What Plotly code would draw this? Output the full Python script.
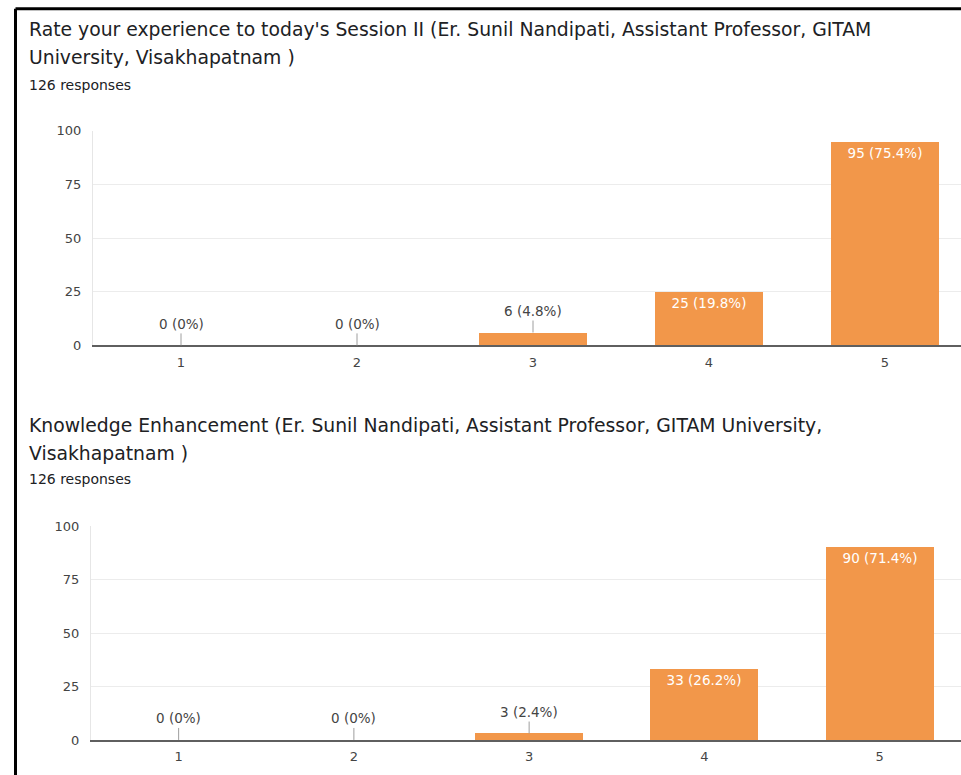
import plotly.graph_objects as go

categories = ["1", "2", "3", "4", "5"]
x_pos = [1, 2, 3, 4, 5]
session_counts = [0, 0, 6, 25, 95]
session_pcts = ["0%", "0%", "4.8%", "19.8%", "75.4%"]
knowledge_counts = [0, 0, 3, 33, 90]
knowledge_pcts = ["0%", "0%", "2.4%", "26.2%", "71.4%"]
y_ticks = [0, 25, 50, 75, 100]

title1_lines = ["Rate your experience to today's Session II (Er. Sunil Nandipati, Assistant Professor, GITAM",
                "University, Visakhapatnam )"]
title2_lines = ["Knowledge Enhancement (Er. Sunil Nandipati, Assistant Professor, GITAM University,",
                "Visakhapatnam )"]
responses_text = "126 responses"

W, H = 961, 783
Y_OFF, Y_SCALE = 6.2, 0.982  # observed vertical placement of the page in the photograph
ORANGE = "#F2974A"
FONT = "DejaVu Sans"

def py(px):
    return 1 - ((px - Y_OFF) / Y_SCALE) / H

fig = go.Figure()

charts = [
    dict(counts=session_counts, pcts=session_pcts, xa="x", ya="y",
         left=93, top=130, bottom=345, step=176, titles=title1_lines, ty=[29, 57], ry=84),
    dict(counts=knowledge_counts, pcts=knowledge_pcts, xa="x2", ya="y2",
         left=91, top=526, bottom=740, step=175.25, titles=title2_lines, ty=[425, 453], ry=479),
]

annotations = []
layout_axes = {}
INSIDE_MIN = 15
for i, c in enumerate(charts):
    labels = [f"{v} ({p})" for v, p in zip(c["counts"], c["pcts"])]
    inside_text = [lab if v >= INSIDE_MIN else "" for lab, v in zip(labels, c["counts"])]
    fig.add_trace(go.Bar(
        x=x_pos, y=c["counts"], xaxis=c["xa"], yaxis=c["ya"],
        marker=dict(color=ORANGE, line=dict(width=0)), width=0.615,
        text=inside_text, textposition="inside", insidetextanchor="end",
        textfont=dict(color="white", size=13.5, family=FONT),
        constraintext="none", textangle=0, showlegend=False, hoverinfo="skip",
    ))
    for xv, v, lab in zip(x_pos, c["counts"], labels):
        if v < INSIDE_MIN:
            annotations.append(dict(
                x=xv, y=v, xref=c["xa"], yref=c["ya"], text=lab,
                showarrow=True, arrowhead=0, arrowwidth=1, arrowcolor="#9e9e9e",
                ax=0, ay=-21.5, standoff=0,
                font=dict(size=13.5, color="#444", family=FONT),
            ))
    for line, yy in zip(c["titles"], c["ty"]):
        annotations.append(dict(
            x=27 / W, y=py(yy), xref="paper", yref="paper", xanchor="left", yanchor="middle",
            text=line, showarrow=False, font=dict(size=18.8, color="#202124", family=FONT),
        ))
    annotations.append(dict(
        x=27 / W, y=py(c["ry"]), xref="paper", yref="paper", xanchor="left", yanchor="middle",
        text=responses_text, showarrow=False, font=dict(size=14, color="#202124", family=FONT),
    ))
    suffix = "" if i == 0 else "2"
    layout_axes["xaxis" + suffix] = dict(
        domain=[c["left"] / W, 1], range=[0.5, 0.5 + (W - c["left"]) / c["step"]],
        tickvals=x_pos, ticktext=categories, showgrid=False, zeroline=False,
        showline=True, linecolor="#5f5f5f", linewidth=1.5, ticks="",
        tickfont=dict(size=13, color="#444", family=FONT), ticklabelstandoff=4,
        anchor="y" + suffix, fixedrange=True,
    )
    layout_axes["yaxis" + suffix] = dict(
        domain=[py(c["bottom"]), py(c["top"])], range=[0, 100], tickvals=y_ticks,
        showgrid=True, gridcolor="#ececec", gridwidth=1, zeroline=False,
        showline=True, linecolor="#e6e6e6", linewidth=1, ticks="",
        tickfont=dict(size=13, color="#444", family=FONT), ticklabelstandoff=8,
        anchor="x" + suffix, fixedrange=True,
    )

shapes = [
    dict(type="line", xref="paper", yref="paper", x0=15.5 / W, x1=1, y0=py(8), y1=py(8),
         line=dict(color="black", width=3)),
    dict(type="line", xref="paper", yref="paper", x0=15.5 / W, x1=15.5 / W, y0=py(8), y1=0,
         line=dict(color="black", width=3)),
]

fig.update_layout(
    width=W, height=H, margin=dict(l=0, r=0, t=0, b=0),
    paper_bgcolor="white", plot_bgcolor="white",
    annotations=annotations, shapes=shapes, bargap=0,
    font=dict(family=FONT), **layout_axes,
)

fig.write_html(
    "out.html",
    config={"displayModeBar": False},
    post_script="document.documentElement.style.margin='0px';document.documentElement.style.padding='0px';"
                "document.documentElement.style.overflow='hidden';"
                "document.body.style.margin='0px';document.body.style.padding='0px';document.body.style.overflow='hidden';",
)
